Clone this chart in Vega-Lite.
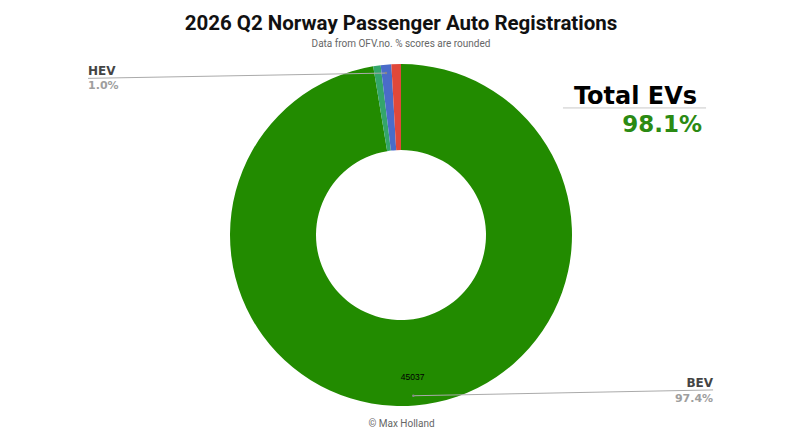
{
  "$schema": "https://vega.github.io/schema/vega-lite/v6.json",
  "width": 798,
  "height": 350,
  "autosize": "none",
  "padding": {"left": 2, "top": 60, "right": 0, "bottom": 35},
  "background": "white",
  "title": {
    "text": "2026 Q2 Norway Passenger Auto Registrations",
    "subtitle": "Data from OFV.no. % scores are rounded",
    "font": "Roboto",
    "fontSize": 20.5,
    "fontWeight": "bold",
    "color": "#111111",
    "subtitleFont": "Roboto",
    "subtitleFontSize": 10,
    "subtitleColor": "#666666",
    "subtitlePadding": 5,
    "anchor": "middle",
    "offset": 11
  },
  "config": {
    "view": {"stroke": null},
    "axis": {
      "domain": false,
      "ticks": false,
      "labels": false,
      "grid": false,
      "titleFont": "Roboto",
      "titleFontSize": 10,
      "titleFontWeight": "normal",
      "titleColor": "#666666",
      "titlePadding": 8
    }
  },
  "datasets": {
    "shares": [
      {"type": "BEV", "count": 45037, "rank": 1},
      {"type": "PHEV", "count": 324, "rank": 2},
      {"type": "HEV", "count": 462, "rank": 3},
      {"type": "ICE", "count": 416, "rank": 4}
    ],
    "callouts": [
      {"type": "HEV", "share": "1.0%", "x": -0.088, "y": 0.947, "x2": -1.83, "y2": 0.916},
      {"type": "BEV", "share": "97.4%", "x": 0.072, "y": -0.94, "x2": 1.825, "y2": -0.906}
    ],
    "total": [
      {"label": "Total EVs", "share": "98.1%", "x": 0.947, "x2": 1.784, "y": 0.743}
    ]
  },
  "layer": [
    {
      "data": {"name": "shares"},
      "mark": {"type": "arc", "outerRadius": 171, "innerRadius": 85},
      "encoding": {
        "theta": {"field": "count", "type": "quantitative", "stack": true},
        "order": {"field": "rank"},
        "color": {
          "field": "type",
          "type": "nominal",
          "scale": {
            "domain": ["BEV", "PHEV", "HEV", "ICE"],
            "range": ["#228b00", "#34a56b", "#4a6cc9", "#e0483a"]
          },
          "legend": null
        }
      }
    },
    {
      "data": {"name": "shares"},
      "mark": {"type": "text", "radius": 142, "font": "Liberation Sans", "fontSize": 8.5, "color": "#000000"},
      "encoding": {
        "theta": {"field": "count", "type": "quantitative", "stack": true},
        "order": {"field": "rank"},
        "text": {
          "condition": {"test": "datum.type === 'BEV'", "field": "count", "type": "quantitative", "format": "d"},
          "value": ""
        }
      }
    },
    {
      "data": {"name": "callouts"},
      "mark": {"type": "rule", "color": "#aaaaaa", "strokeWidth": 1},
      "encoding": {
        "x": {"field": "x", "type": "quantitative", "title": "© Max Holland", "scale": {"domain": [-2.3333, 2.3333], "nice": false, "zero": false}},
        "y": {"field": "y", "type": "quantitative", "axis": null, "scale": {"domain": [-1.0234, 1.0234], "nice": false, "zero": false}},
        "x2": {"field": "x2"},
        "y2": {"field": "y2"}
      }
    },
    {
      "data": {"name": "callouts"},
      "mark": {"type": "point", "filled": true, "size": 6, "color": "#888888", "opacity": 1},
      "encoding": {
        "x": {"field": "x", "type": "quantitative", "title": "© Max Holland", "scale": {"domain": [-2.3333, 2.3333], "nice": false, "zero": false}},
        "y": {"field": "y", "type": "quantitative", "axis": null, "scale": {"domain": [-1.0234, 1.0234], "nice": false, "zero": false}}
      }
    },
    {
      "data": {"name": "callouts"},
      "transform": [{"filter": "datum.x2 < 0"}],
      "mark": {"type": "text", "align": "left", "baseline": "alphabetic", "dy": -3, "font": "DejaVu Sans", "fontWeight": "bold", "fontSize": 12, "color": "#444444"},
      "encoding": {
        "x": {"field": "x2", "type": "quantitative", "title": "© Max Holland", "scale": {"domain": [-2.3333, 2.3333], "nice": false, "zero": false}},
        "y": {"field": "y2", "type": "quantitative", "axis": null, "scale": {"domain": [-1.0234, 1.0234], "nice": false, "zero": false}},
        "text": {"field": "type"}
      }
    },
    {
      "data": {"name": "callouts"},
      "transform": [{"filter": "datum.x2 < 0"}],
      "mark": {"type": "text", "align": "left", "baseline": "alphabetic", "dy": 11, "font": "DejaVu Sans", "fontWeight": "bold", "fontSize": 11, "color": "#9e9e9e"},
      "encoding": {
        "x": {"field": "x2", "type": "quantitative", "title": "© Max Holland", "scale": {"domain": [-2.3333, 2.3333], "nice": false, "zero": false}},
        "y": {"field": "y2", "type": "quantitative", "axis": null, "scale": {"domain": [-1.0234, 1.0234], "nice": false, "zero": false}},
        "text": {"field": "share"}
      }
    },
    {
      "data": {"name": "callouts"},
      "transform": [{"filter": "datum.x2 > 0"}],
      "mark": {"type": "text", "align": "right", "baseline": "alphabetic", "dy": -3, "font": "DejaVu Sans", "fontWeight": "bold", "fontSize": 12, "color": "#444444"},
      "encoding": {
        "x": {"field": "x2", "type": "quantitative", "title": "© Max Holland", "scale": {"domain": [-2.3333, 2.3333], "nice": false, "zero": false}},
        "y": {"field": "y2", "type": "quantitative", "axis": null, "scale": {"domain": [-1.0234, 1.0234], "nice": false, "zero": false}},
        "text": {"field": "type"}
      }
    },
    {
      "data": {"name": "callouts"},
      "transform": [{"filter": "datum.x2 > 0"}],
      "mark": {"type": "text", "align": "right", "baseline": "alphabetic", "dy": 12, "font": "DejaVu Sans", "fontWeight": "bold", "fontSize": 11, "color": "#9e9e9e"},
      "encoding": {
        "x": {"field": "x2", "type": "quantitative", "title": "© Max Holland", "scale": {"domain": [-2.3333, 2.3333], "nice": false, "zero": false}},
        "y": {"field": "y2", "type": "quantitative", "axis": null, "scale": {"domain": [-1.0234, 1.0234], "nice": false, "zero": false}},
        "text": {"field": "share"}
      }
    },
    {
      "data": {"name": "total"},
      "mark": {"type": "rule", "color": "#c8c8c8", "strokeWidth": 1},
      "encoding": {
        "x": {"field": "x", "type": "quantitative", "title": "© Max Holland", "scale": {"domain": [-2.3333, 2.3333], "nice": false, "zero": false}},
        "y": {"field": "y", "type": "quantitative", "axis": null, "scale": {"domain": [-1.0234, 1.0234], "nice": false, "zero": false}},
        "x2": {"field": "x2"}
      }
    },
    {
      "data": {"name": "total"},
      "mark": {"type": "text", "align": "right", "baseline": "alphabetic", "dx": -9, "dy": -4, "font": "DejaVu Sans", "fontWeight": "bold", "fontSize": 24, "color": "#000000"},
      "encoding": {
        "x": {"field": "x2", "type": "quantitative", "title": "© Max Holland", "scale": {"domain": [-2.3333, 2.3333], "nice": false, "zero": false}},
        "y": {"field": "y", "type": "quantitative", "axis": null, "scale": {"domain": [-1.0234, 1.0234], "nice": false, "zero": false}},
        "text": {"field": "label"}
      }
    },
    {
      "data": {"name": "total"},
      "mark": {"type": "text", "align": "right", "baseline": "alphabetic", "dx": -4, "dy": 24, "font": "DejaVu Sans", "fontWeight": "bold", "fontSize": 23, "color": "#2b8a13"},
      "encoding": {
        "x": {"field": "x2", "type": "quantitative", "title": "© Max Holland", "scale": {"domain": [-2.3333, 2.3333], "nice": false, "zero": false}},
        "y": {"field": "y", "type": "quantitative", "axis": null, "scale": {"domain": [-1.0234, 1.0234], "nice": false, "zero": false}},
        "text": {"field": "share"}
      }
    }
  ]
}
